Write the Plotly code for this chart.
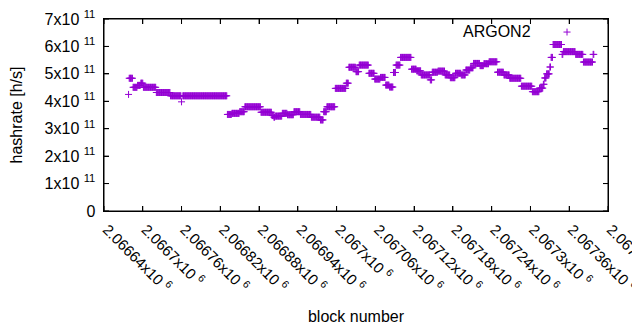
import plotly.graph_objects as go

# ---- data ----
BASE_BLOCK = 2066640
# runs of consecutive blocks sharing the same hashrate estimate
run_start = [38, 39, 45, 52, 57, 61, 81, 103, 120, 122, 191, 198, 210, 218, 243, 260, 263, 265,
             276, 284, 294, 304, 321, 335, 340, 345, 358, 375, 379, 390, 395, 410, 419, 428,
             436, 442, 448, 452, 459, 476, 484, 491, 505, 508, 517, 528, 536, 544, 553, 560,
             567, 572, 582, 588, 596, 609, 619, 628, 646, 663, 674, 680, 682, 685, 690, 692,
             695, 709, 711, 730, 742, 757]
run_end = [38, 44, 51, 56, 60, 80, 102, 119, 120, 190, 197, 209, 217, 242, 259, 262, 264, 275,
           283, 293, 303, 320, 334, 339, 344, 357, 374, 378, 389, 394, 409, 418, 427, 435,
           441, 447, 451, 458, 475, 483, 490, 504, 507, 516, 527, 535, 543, 552, 559, 566,
           571, 581, 587, 595, 608, 618, 627, 645, 662, 673, 679, 681, 684, 689, 691, 694,
           708, 710, 729, 741, 756, 758]
run_value_e11 = [4.25, 4.84, 4.51, 4.58, 4.66, 4.51, 4.32, 4.20, 3.98, 4.20, 3.52, 3.56, 3.62,
                 3.80, 3.60, 3.48, 3.42, 3.46, 3.56, 3.51, 3.62, 3.52, 3.42, 3.32, 3.62, 3.80,
                 4.47, 4.66, 5.24, 5.08, 5.32, 5.02, 4.81, 4.87, 4.59, 4.52, 5.05, 5.32, 5.60,
                 5.17, 5.11, 4.96, 4.78, 5.06, 5.10, 4.96, 4.86, 5.02, 4.96, 5.14, 5.22, 5.38,
                 5.30, 5.37, 5.44, 5.06, 4.96, 4.84, 4.55, 4.35, 4.48, 4.62, 4.85, 5.00, 5.25,
                 5.60, 6.07, 5.71, 5.81, 5.71, 5.43, 5.71]

x_tickvals = [2066640, 2066700, 2066760, 2066820, 2066880, 2066940, 2067000,
              2067060, 2067120, 2067180, 2067240, 2067300, 2067360, 2067420]
x_ticktext = ["\u00a02.06664x10\u00a0<sup>6</sup>", "\u00a02.0667x10\u00a0<sup>6</sup>",
              "\u00a02.06676x10\u00a0<sup>6</sup>", "\u00a02.06682x10\u00a0<sup>6</sup>",
              "\u00a02.06688x10\u00a0<sup>6</sup>", "\u00a02.06694x10\u00a0<sup>6</sup>",
              "\u00a02.067x10\u00a0<sup>6</sup>", "\u00a02.06706x10\u00a0<sup>6</sup>",
              "\u00a02.06712x10\u00a0<sup>6</sup>", "\u00a02.06718x10\u00a0<sup>6</sup>",
              "\u00a02.06724x10\u00a0<sup>6</sup>", "\u00a02.0673x10\u00a0<sup>6</sup>",
              "\u00a02.06736x10\u00a0<sup>6</sup>", "\u00a02.06742x10\u00a0<sup>6</sup>"]
y_tickvals = [0, 1e11, 2e11, 3e11, 4e11, 5e11, 6e11, 7e11]
y_ticktext = ["0\u00a0", "1x10\u00a0<sup>11</sup>\u00a0", "2x10\u00a0<sup>11</sup>\u00a0",
              "3x10\u00a0<sup>11</sup>\u00a0", "4x10\u00a0<sup>11</sup>\u00a0",
              "5x10\u00a0<sup>11</sup>\u00a0", "6x10\u00a0<sup>11</sup>\u00a0",
              "7x10\u00a0<sup>11</sup>\u00a0"]

# expand runs into one point per block
blocks, hashrate = [], []
for s, e, v in zip(run_start, run_end, run_value_e11):
    for b in range(s, e + 1):
        blocks.append(BASE_BLOCK + b)
        hashrate.append(v * 1e11)

PURPLE = "#9400D3"
INK = "rgb(0,0,0)"
FONT = "Liberation Sans, Arial, sans-serif"

# margins compensate for the page's 8px body margin
W, H = 640, 330
ML, MR, MT, MB = 96, 40, 11, 127
PW, PH = W - ML - MR, H - MT - MB
TICK = 5

fig = go.Figure()
fig.add_trace(go.Scatter(
    x=blocks, y=hashrate, mode="markers", name="ARGON2", showlegend=False,
    marker=dict(symbol="cross-thin", size=5, color=PURPLE,
                line=dict(width=1, color=PURPLE)),
))

# key (gnuplot style: text then sample to the right)
fig.add_annotation(x=0.851, y=0.9375, xref="paper", yref="paper", text="ARGON2",
                   showarrow=False, xanchor="right", yanchor="middle",
                   font=dict(family=FONT, size=16, color="black"))
kx, ky = 0.9187, 0.932
fig.add_shape(type="line", xref="paper", yref="paper", x0=kx - 0.007, x1=kx + 0.007,
              y0=ky, y1=ky, line=dict(color=PURPLE, width=1))
fig.add_shape(type="line", xref="paper", yref="paper", x0=kx, x1=kx,
              y0=ky - 0.018, y1=ky + 0.018, line=dict(color=PURPLE, width=1))

# border frame and mirrored inside ticks (gnuplot style)
for x0, x1, y0, y1 in ((0, 1, 0, 0), (0, 1, 1, 1), (0, 0, 0, 1), (1, 1, 0, 1)):
    fig.add_shape(type="line", xref="paper", yref="paper", x0=x0, x1=x1, y0=y0, y1=y1,
                  line=dict(color=INK, width=1))
for tv in x_tickvals:
    for y0, y1 in ((0, TICK / PH), (1 - TICK / PH, 1)):
        fig.add_shape(type="line", xref="x", yref="paper", x0=tv, x1=tv, y0=y0, y1=y1,
                      line=dict(color=INK, width=1))
for tv in y_tickvals:
    for x0, x1 in ((0, TICK / PW), (1 - TICK / PW, 1)):
        fig.add_shape(type="line", xref="paper", yref="y", x0=x0, x1=x1, y0=tv, y1=tv,
                      line=dict(color=INK, width=1))

axis_common = dict(showline=True, linecolor=INK, linewidth=1, mirror="ticks",
                   ticks="inside", ticklen=TICK, tickcolor=INK, showgrid=False,
                   zeroline=False, ticklabeloverflow="allow")

fig.update_xaxes(range=[2066640, 2067420], tickvals=x_tickvals, ticktext=x_ticktext,
                 tickangle=45, tickfont=dict(family=FONT, size=15, color="black"),
                 title=dict(text="block number", font=dict(family=FONT, size=16, color="black"),
                            standoff=16),
                 automargin=False, **axis_common)
fig.update_yaxes(range=[0, 7e11], tickvals=y_tickvals, ticktext=y_ticktext,
                 tickfont=dict(family=FONT, size=16, color="black"),
                 title=dict(text="hashrate [h/s]", font=dict(family=FONT, size=16, color="black"),
                            standoff=24),
                 automargin=False, **axis_common)

fig.update_layout(width=W, height=H, margin=dict(l=ML, r=MR, t=MT, b=MB),
                  paper_bgcolor="white", plot_bgcolor="white",
                  font=dict(family=FONT, color="black"))

fig.write_html("out.html")
